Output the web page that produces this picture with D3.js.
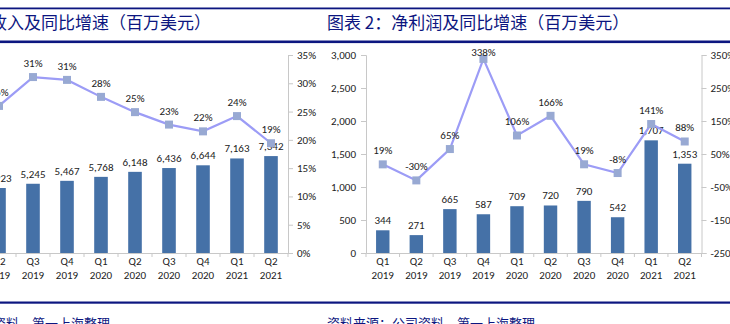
<!DOCTYPE html>
<html>
<head>
<meta charset="utf-8">
<script src="https://cdn.jsdelivr.net/npm/d3@7"></script>
<style>
  body { margin: 0; background: #fff; }
  svg { display: block; }
  .num { font-family: Carlito, "Liberation Sans Narrow", "Liberation Sans", Arial, sans-serif; font-size: 11px; fill: #222; }
  .axis path, .axis line { stroke: #c8c8c8; }
  .axis text { font-family: Carlito, "Liberation Sans Narrow", "Liberation Sans", Arial, sans-serif; font-size: 11px; fill: #222; }
</style>
</head>
<body>
<div id="chart"></div>
<script>
// data
var quarters = ["Q1", "Q2", "Q3", "Q4", "Q1", "Q2", "Q3", "Q4", "Q1", "Q2"];
var years = ["2019", "2019", "2019", "2019", "2020", "2020", "2020", "2020", "2021", "2021"];
var revenue = [4521, 4923, 5245, 5467, 5768, 6148, 6436, 6644, 7163, 7342];
var revenueGrowth = [22.2, 26.0, 31.1, 30.6, 27.6, 24.9, 22.7, 21.5, 24.2, 19.4];
var netIncome = [344, 271, 665, 587, 709, 720, 790, 542, 1707, 1353];
var incomeGrowth = [18.6, -30.0, 65.0, 338.1, 106.1, 165.7, 18.8, -7.7, 140.8, 87.9];
var revenueTicks = [0, 3000, 6000, 9000, 12000, 15000];
var revenuePctTicks = [0, 5, 10, 15, 20, 25, 30, 35];
var incomeTicks = [0, 500, 1000, 1500, 2000, 2500, 3000];
var incomePctTicks = [-250, -150, -50, 50, 150, 250, 350];
var titles = ["图表 1：营业收入及同比增速（百万美元）", "图表 2：净利润及同比增速（百万美元）"];
var source = "资料来源：公司资料，第一上海整理";

var W = 730, H = 324;
var plotTop = 55, plotBottom = 253;
var navy = "#0c1680";
var barColor = "#4571a7";
var lineColor = "#9c9cf6";
var markColor = "#98a9d3";

var svg = d3.select("#chart").append("svg")
  .attr("width", W)
  .attr("height", H);

// header and footer rules
svg.append("rect").attr("x", 0).attr("y", 7.5).attr("width", W).attr("height", 1.8).attr("fill", navy);
svg.append("rect").attr("x", 0).attr("y", 40.5).attr("width", W).attr("height", 2.6).attr("fill", navy);
svg.append("rect").attr("x", 0).attr("y", 301.5).attr("width", W).attr("height", 2.2).attr("fill", navy);

var cjk = '"Noto Sans CJK SC", sans-serif';
svg.append("text").attr("x", 211).attr("y", 29).attr("text-anchor", "end")
  .attr("font-family", cjk).attr("font-size", 17).attr("fill", navy).text(titles[0]);
svg.append("text").attr("x", 327).attr("y", 29)
  .attr("font-family", cjk).attr("font-size", 17).attr("fill", navy).text(titles[1]);
svg.append("text").attr("x", 110).attr("y", 328).attr("text-anchor", "end")
  .attr("font-family", cjk).attr("font-size", 13).attr("fill", navy).text(source);
svg.append("text").attr("x", 327).attr("y", 328)
  .attr("font-family", cjk).attr("font-size", 13).attr("fill", navy).text(source);

function panel(opt) {
  var g = svg.append("g");
  var x = d3.scaleBand().domain(d3.range(quarters.length))
    .range([opt.left, opt.right]).paddingInner(0.6).paddingOuter(0.3);
  var yBar = d3.scaleLinear().domain(opt.barDomain).range([plotBottom, plotTop]);
  var yPct = d3.scaleLinear().domain(opt.pctDomain).range([plotBottom, plotTop]);
  var step = x.step();
  var x0 = opt.left;

  // left axis
  g.append("g").attr("class", "axis")
    .attr("transform", "translate(" + opt.left + ",0)")
    .call(d3.axisLeft(yBar).tickValues(opt.barTicks).tickFormat(d3.format(",")).tickSizeOuter(0).tickSize(5).tickPadding(5));

  // right axis
  g.append("g").attr("class", "axis")
    .attr("transform", "translate(" + opt.right + ",0)")
    .call(d3.axisRight(yPct).tickValues(opt.pctTicks).tickFormat(function(d) { return d + "%"; }).tickSizeOuter(0).tickSize(5).tickPadding(4));

  // category axis
  var xa = g.append("g").attr("class", "axis")
    .attr("transform", "translate(0," + plotBottom + ")")
    .call(d3.axisBottom(x).tickSize(0).tickSizeOuter(0).tickPadding(9).tickFormat(function() { return ""; }));
  xa.selectAll(".tick text").each(function(d) {
    var t = d3.select(this);
    t.append("tspan").attr("x", 0).attr("dy", "0.3em").text(quarters[d]);
    t.append("tspan").attr("x", 0).attr("dy", "1.2em").text(years[d]);
  });
  g.append("g").selectAll("line").data(d3.range(quarters.length + 1)).join("line")
    .attr("x1", function(i) { return x0 + i * step; })
    .attr("x2", function(i) { return x0 + i * step; })
    .attr("y1", plotBottom).attr("y2", plotBottom + 4)
    .attr("stroke", "#c8c8c8");

  // bars
  g.append("g").selectAll("rect").data(opt.bars).join("rect")
    .attr("x", function(d, i) { return x(i); })
    .attr("y", function(d) { return yBar(d); })
    .attr("width", x.bandwidth())
    .attr("height", function(d) { return plotBottom - yBar(d); })
    .attr("fill", barColor);

  g.append("g").selectAll("text").data(opt.bars).join("text")
    .attr("class", "num")
    .attr("text-anchor", "middle")
    .attr("x", function(d, i) { return x(i) + x.bandwidth() / 2; })
    .attr("y", function(d) { return yBar(d) - 6; })
    .text(d3.format(","));

  // growth line
  var cx = function(d, i) { return x(i) + x.bandwidth() / 2; };
  var line = d3.line().x(cx).y(function(d) { return yPct(d); });
  g.append("path").datum(opt.pct)
    .attr("d", line)
    .attr("fill", "none")
    .attr("stroke", lineColor)
    .attr("stroke-width", 2.2);

  g.append("g").selectAll("rect").data(opt.pct).join("rect")
    .attr("x", function(d, i) { return cx(d, i) - 4; })
    .attr("y", function(d) { return yPct(d) - 4; })
    .attr("width", 8).attr("height", 8)
    .attr("fill", markColor);

  g.append("g").selectAll("text").data(opt.pct).join("text")
    .attr("class", "num")
    .attr("text-anchor", "middle")
    .attr("x", cx)
    .attr("y", function(d) { return Math.max(yPct(d) - 10, 56); })
    .text(function(d) { return Math.round(d) + "%"; });
}

panel({
  left: -52, right: 288,
  bars: revenue, barDomain: [0, 15000], barTicks: revenueTicks,
  pct: revenueGrowth, pctDomain: [0, 35], pctTicks: revenuePctTicks
});

panel({
  left: 366, right: 701.5,
  bars: netIncome, barDomain: [0, 3000], barTicks: incomeTicks,
  pct: incomeGrowth, pctDomain: [-250, 350], pctTicks: incomePctTicks
});
</script>
</body>
</html>
